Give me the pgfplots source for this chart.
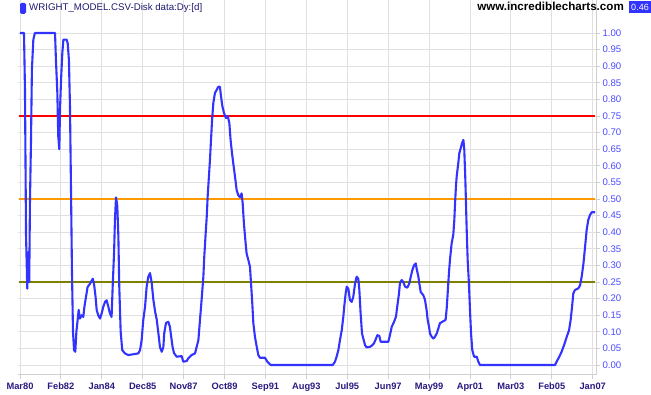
\documentclass[border=0pt]{standalone}
\usepackage{fontspec}
\setmainfont{Liberation Sans}
\usepackage{pgfplots}
\pgfplotsset{compat=1.18}
\definecolor{gridgrey}{HTML}{E0E0E0}
\definecolor{axisgrey}{HTML}{D0D0D0}
\definecolor{lineblue}{HTML}{3333FF}
\definecolor{redline}{HTML}{FF0000}
\definecolor{orangeline}{HTML}{FF9900}
\definecolor{oliveline}{HTML}{808000}
\definecolor{ylab}{HTML}{4A4AFF}
\definecolor{xlab}{HTML}{2A1A80}
\definecolor{htext}{HTML}{1E1A70}
\definecolor{hblue}{HTML}{3333FF}
\begin{document}
\begin{tikzpicture}[x=1pt,y=1pt]
\path[use as bounding box] (0,0) rectangle (651,395);
\begin{axis}[
  at={(18pt,20pt)}, anchor=south west,
  scale only axis, width=578pt, height=375pt,
  xmin=-1.12, xmax=323.85, ymin=-0.030, ymax=1.0994,
  axis x line*=bottom, axis y line*=right,
  axis line style={draw=axisgrey, line width=1pt, -},
  xtick={0,23,46,69,92,115,138,161,184,207,230,253,276,299,322},
  xticklabels={Mar80,Feb82,Jan84,Dec85,Nov87,Oct89,Sep91,Aug93,Jul95,Jun97,May99,Apr01,Mar03,Feb05,Jan07},
  ytick={0,0.05,0.1,0.15,0.2,0.25,0.3,0.35,0.4,0.45,0.5,0.55,0.6,0.65,0.7,0.75,0.8,0.85,0.9,0.95,1.0},
  grid=major, major grid style={draw=gridgrey, line width=0.9pt},
  tick align=outside, major tick length=4pt,
  tick style={draw=axisgrey, line width=0.9pt},
  xticklabel style={font=\fontsize{9.3}{10}\selectfont\bfseries, text=xlab},
  yticklabel style={font=\fontsize{9.6}{10}\selectfont, text=ylab, xshift=-1pt},
  yticklabel pos=right,
  clip=false,
  /pgf/number format/.cd, fixed, fixed zerofill, precision=2, assume math mode=true,
]
\addplot[redline, line width=2pt] coordinates {(-0.3,0.75) (323.3,0.75)};
\addplot[orangeline, line width=2pt] coordinates {(-0.3,0.5) (323.3,0.5)};
\addplot[oliveline, line width=2pt] coordinates {(-0.3,0.25) (323.3,0.25)};
\addplot[lineblue, line width=2.1pt, line join=round] coordinates {
(0,1.0)(2.25,1.0)(2.8,0.83)(3.4,0.39)(4.1,0.23)(4.7,0.34)(5.2,0.25)(5.6,0.49)(6.2,0.68)(6.7,0.89)(7.5,0.98)(8.4,1.0)
(19.7,1.0)(20.2,0.92)(21.0,0.82)(21.5,0.69)(22.1,0.65)(22.5,0.77)(23.1,0.86)(23.8,0.94)(24.4,0.98)(26.2,0.98)(26.8,0.97)
(27.5,0.92)(28.1,0.78)(28.7,0.52)(29.2,0.29)(29.8,0.10)(30.4,0.045)(31.1,0.04)(31.7,0.10)(32.4,0.135)(33.0,0.166)
(33.7,0.14)(34.7,0.15)(35.6,0.145)(36.2,0.175)(37.1,0.205)(38.0,0.235)(39.4,0.245)(40.9,0.26)(41.6,0.245)(42.5,0.205)
(43.1,0.166)(44.0,0.15)(45.0,0.14)(45.9,0.155)(46.8,0.175)(47.8,0.19)(48.7,0.195)(49.7,0.175)(50.6,0.155)(51.5,0.145)
(52.1,0.235)(52.9,0.34)(53.4,0.44)(54.0,0.505)(54.7,0.48)(55.3,0.39)(55.8,0.24)(56.6,0.10)(57.5,0.045)(59.0,0.035)
(60.9,0.03)(66.5,0.035)(67.5,0.045)(68.4,0.075)(69.3,0.135)(70.3,0.175)(71.2,0.235)(72.1,0.265)(73.1,0.277)(74.0,0.25)
(75.0,0.196)(76.0,0.16)(76.9,0.136)(77.8,0.096)(78.7,0.054)(79.7,0.04)(80.6,0.054)(81.1,0.096)(82.1,0.127)(83.4,0.13)
(84.3,0.115)(84.9,0.09)(85.8,0.054)(86.6,0.036)(88.1,0.025)(90.9,0.027)(91.8,0.01)(93.7,0.012)(94.6,0.02)(96.5,0.03)
(98.4,0.035)(99.3,0.054)(100.3,0.075)(101.2,0.136)(102.1,0.196)(103.1,0.266)(103.6,0.326)(104.4,0.397)(105.0,0.447)
(105.5,0.507)(106.1,0.557)(106.8,0.617)(107.4,0.678)(108.0,0.738)(108.7,0.789)(109.6,0.819)(110.6,0.829)(111.5,0.838)
(112.4,0.838)(113.0,0.81)(113.8,0.779)(114.7,0.759)(115.8,0.744)(116.8,0.75)(117.7,0.729)(118.4,0.678)(119.2,0.638)
(119.9,0.608)(120.9,0.567)(121.8,0.527)(122.7,0.512)(123.7,0.505)(124.6,0.517)(125.2,0.487)(125.9,0.427)(126.7,0.376)
(127.4,0.336)(128.4,0.316)(129.3,0.296)(129.9,0.246)(130.6,0.186)(131.2,0.126)(132.1,0.085)(133.1,0.055)(134.0,0.03)
(134.9,0.022)(137.7,0.022)(139.1,0.01)(141.0,0.0)(175.8,0.0)(177.1,0.01)(178.0,0.025)(179.0,0.045)(179.9,0.075)
(180.9,0.105)(181.8,0.146)(182.3,0.176)(183.1,0.216)(183.7,0.236)(184.6,0.23)(185.5,0.196)(186.5,0.19)(187.4,0.206)
(188.4,0.246)(189.3,0.266)(190.2,0.26)(190.8,0.226)(191.5,0.156)(192.3,0.095)(193.0,0.08)(194.0,0.06)(194.9,0.053)
(196.8,0.055)(197.7,0.058)(199.0,0.065)(200.2,0.08)(200.9,0.09)(202.0,0.088)(202.8,0.07)(207.1,0.07)(208.0,0.09)
(209.0,0.115)(210.3,0.13)(211.4,0.146)(212.1,0.176)(213.1,0.216)(213.6,0.246)(214.6,0.256)(215.5,0.25)(216.5,0.236)
(217.8,0.233)(218.9,0.246)(219.7,0.266)(220.6,0.286)(221.5,0.3)(222.5,0.306)(223.0,0.29)(224.0,0.266)(224.5,0.246)
(225.3,0.22)(226.8,0.21)(227.7,0.196)(228.6,0.166)(229.2,0.136)(230.0,0.115)(230.5,0.095)(231.5,0.085)(232.4,0.08)
(233.3,0.085)(234.3,0.095)(235.2,0.11)(236.1,0.126)(239.3,0.136)(239.9,0.17)(240.5,0.22)(241.2,0.28)(241.8,0.32)
(242.7,0.367)(243.6,0.392)(244.2,0.437)(244.6,0.487)(245.1,0.537)(245.5,0.567)(246.4,0.607)(247.0,0.638)(247.8,0.653)
(248.5,0.668)(249.3,0.678)(249.8,0.648)(250.4,0.557)(251.1,0.416)(251.7,0.316)(252.4,0.246)(253.0,0.166)(253.6,0.095)
(254.3,0.045)(255.3,0.025)(256.8,0.025)(257.7,0.01)(258.6,0.0)(300.8,0.0)(301.7,0.01)(303.2,0.025)(304.5,0.04)
(305.9,0.06)(307.4,0.085)(308.7,0.105)(309.6,0.136)(310.4,0.176)(311.1,0.216)(312.0,0.226)(313.9,0.231)(314.9,0.24)
(315.8,0.266)(316.8,0.306)(317.7,0.356)(318.6,0.407)(319.5,0.437)(320.5,0.452)(321.4,0.46)(323.3,0.46)
};
\end{axis}
\fill[hblue, rounded corners=1.5pt] (20,381) rectangle (26,392);
\node[anchor=base west, inner sep=0pt, font=\fontsize{9.7}{10}\selectfont, text=htext] at (29,384) {WRIGHT\_MODEL.CSV-Disk data:Dy:[d]};
\node[anchor=base east, inner sep=0pt, font=\fontsize{11.6}{12}\selectfont\bfseries] at (624,384) {www.incrediblecharts.com};
\fill[hblue] (629,382) rectangle (651,394);
\node[text=white, font=\fontsize{9}{10}\selectfont, inner sep=0pt] at (640,388) {0.46};
\end{tikzpicture}
\end{document}
